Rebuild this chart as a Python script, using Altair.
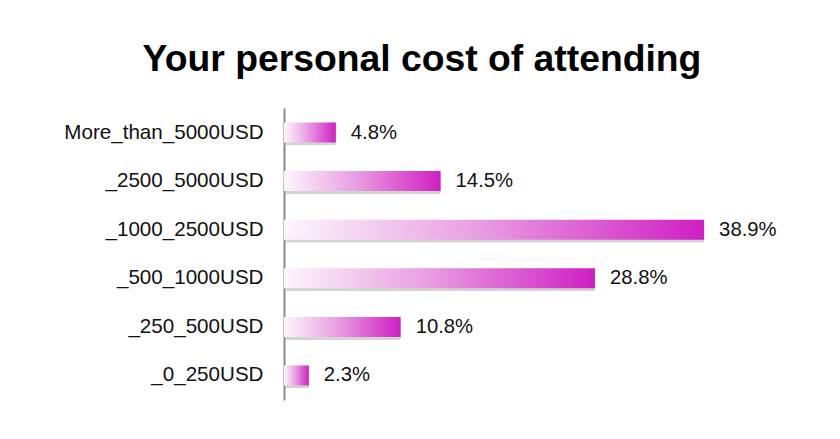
import altair as alt
import pandas as pd

categories = [
    "More_than_5000USD",
    "_2500_5000USD",
    "_1000_2500USD",
    "_500_1000USD",
    "_250_500USD",
    "_0_250USD",
]
values = [4.8, 14.5, 38.9, 28.8, 10.8, 2.3]
title_text = "Your personal cost of attending"

df = pd.DataFrame({"category": categories, "value": values})

FONT = "Liberation Sans"

y_enc = alt.Y(
    "category:N",
    sort=categories,
    title=None,
    scale=alt.Scale(paddingInner=0.59, paddingOuter=0.3),
    axis=alt.Axis(
        labelFontSize=20.6,
        labelFont=FONT,
        labelColor="#111111",
        labelPadding=21,
        labelLimit=400,
        ticks=False,
        domainColor="#8a8a8a",
        domainWidth=2,
        grid=False,
        minExtent=276,
        maxExtent=276,
    ),
)
x_enc = alt.X("value:Q", axis=None, scale=alt.Scale(domain=[0, 48.15], nice=False, zero=True))

base = alt.Chart(df).encode(y=y_enc, x=x_enc)

shadow = base.mark_bar(
    color="#555555", opacity=0.25, xOffset=2, yOffset=3, size=20, cornerRadius=1
)

gradient = alt.Gradient(
    gradient="linear",
    stops=[
        alt.GradientStop(color="#fdf6fc", offset=0),
        alt.GradientStop(color="#e9a0e2", offset=0.45),
        alt.GradientStop(color="#cf1fc3", offset=1),
    ],
    x1=0, x2=1, y1=0, y2=0,
)
bars = base.mark_bar(color=gradient, size=20)

labels = base.mark_text(
    align="left", baseline="middle", dx=15, fontSize=20.3, font=FONT, color="#111111"
).transform_calculate(label="format(datum.value, '.1f') + '%'").encode(text="label:N")

chart = (
    alt.layer(shadow, bars, labels)
    .properties(
        width=520,
        height=292,
        padding={"left": 0, "top": 32, "right": 5, "bottom": 5},
        background="#ffffff",
        title=alt.TitleParams(
            title_text,
            fontSize=37.3,
            font=FONT,
            fontWeight="bold",
            color="#000000",
            anchor="middle",
            dx=-122,
            offset=29,
        ),
    )
    .configure_view(stroke=None)
)

chart.save("out.html", embed_options={"renderer": "svg", "actions": False})
